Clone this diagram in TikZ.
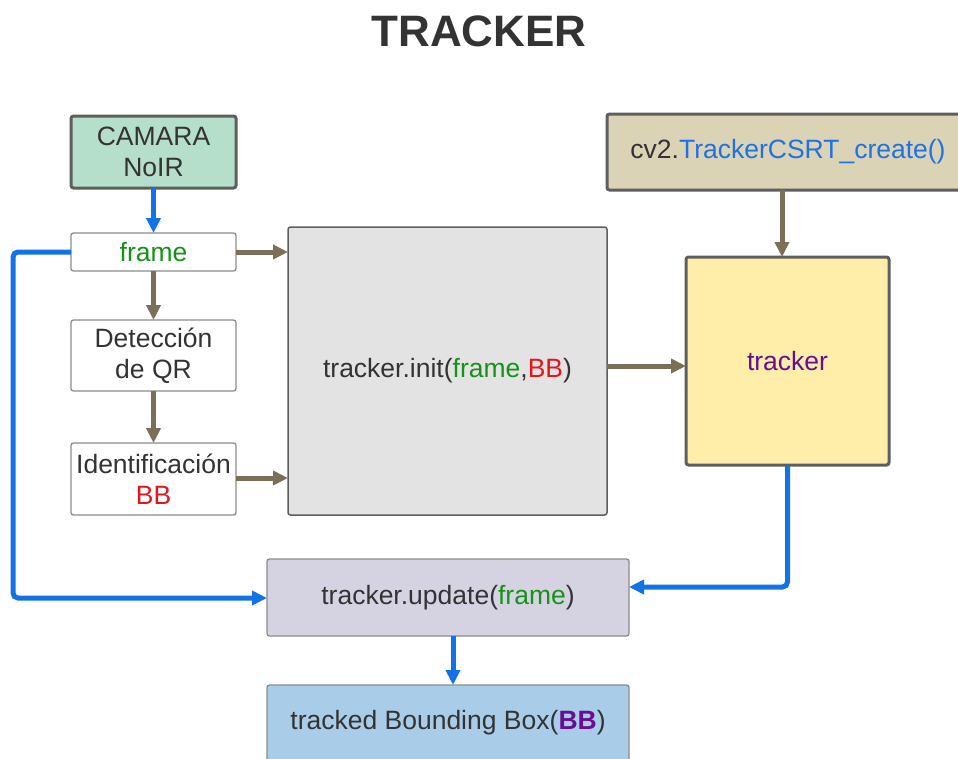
\documentclass[tikz,border=0pt]{standalone}
\usepackage{fontspec}
\setmainfont{Liberation Sans}
\usetikzlibrary{arrows.meta,calc}

\definecolor{ink}{HTML}{333333}
\definecolor{edgeDark}{HTML}{5E5E5E}
\definecolor{edgeLight}{HTML}{8C8C8C}
\definecolor{camFill}{HTML}{B5DECB}
\definecolor{cvFill}{HTML}{DAD3B6}
\definecolor{initFill}{HTML}{E3E3E3}
\definecolor{trkFill}{HTML}{FFEEA9}
\definecolor{updFill}{HTML}{D5D3E2}
\definecolor{outFill}{HTML}{A9CDE8}
\definecolor{txtGreen}{HTML}{16921A}
\definecolor{txtRed}{HTML}{E3161B}
\definecolor{txtPurple}{HTML}{6A0E91}
\definecolor{txtBlue}{HTML}{1F72E3}
\definecolor{flowBlue}{HTML}{1272E6}
\definecolor{flowBrown}{HTML}{7C6F57}

\tikzset{
  boxbase/.style={rectangle, rounded corners=2.5pt, anchor=north west, align=center,
    text=ink, font=\fontsize{26.5}{31}\selectfont, inner sep=2pt, outer sep=0pt},
  thickbox/.style={boxbase, draw=edgeDark, line width=3pt},
  thinbox/.style={boxbase, draw=edgeLight, line width=1.3pt},
  midbox/.style={boxbase, draw=edgeDark, line width=1.5pt},
  bluearrow/.style={draw=flowBlue, line width=5pt, rounded corners=5pt,
    -{Triangle[length=15pt,width=14pt]}},
  brownarrow/.style={draw=flowBrown, line width=5pt,
    -{Triangle[length=15pt,width=14pt]}},
}

\begin{document}
\begin{tikzpicture}[x=1pt,y=-1pt]
  \useasboundingbox (0,0) rectangle (958,758);
  \clip (0,0) rectangle (958,758);
  \fill[white] (0,0) rectangle (958,758);

  % heading
  \node[text=ink, font=\bfseries\fontsize{44}{50}\selectfont] (title) at (479,31) {TRACKER};

  % left column
  \node[thickbox, fill=camFill, minimum width=165pt, minimum height=72pt] (cam) at (71,116)
    {CAMARA\\NoIR};
  \node[thinbox, fill=white, minimum width=165pt, minimum height=38pt] (frame) at (71,233)
    {\textcolor{txtGreen}{frame}};
  \node[thinbox, fill=white, minimum width=165pt, minimum height=71pt] (qr) at (71,320)
    {Detección\\de QR};
  \node[thinbox, fill=white, minimum width=165pt, minimum height=72pt] (ident) at (71,443)
    {Identificación\\\textcolor{txtRed}{BB}};

  % initialisation block
  \node[midbox, fill=initFill, minimum width=319pt, minimum height=288pt] (init) at (288,227)
    {tracker.init(\textcolor{txtGreen}{frame},\textcolor{txtRed}{BB})};

  % tracker creation and object
  \node[thickbox, fill=cvFill, minimum width=362pt, minimum height=76pt] (cv) at (607,114)
    {cv2.\textcolor{txtBlue}{TrackerCSRT\_create()}};
  \node[thickbox, fill=trkFill, minimum width=203pt, minimum height=208pt] (trk) at (686,257)
    {\textcolor{txtPurple}{tracker}};

  % update and result
  \node[thinbox, fill=updFill, minimum width=362pt, minimum height=77pt] (upd) at (267,559)
    {tracker.update(\textcolor{txtGreen}{frame})};
  \node[thinbox, fill=outFill, minimum width=362pt, minimum height=76pt] (out) at (267,685)
    {tracked Bounding Box(\textcolor{txtPurple}{\bfseries BB})};

  % helper coordinates for connector rows and columns
  \coordinate (rowInit) at (0,366);
  \coordinate (colCv) at (782,0);
  \coordinate (rowUpd) at (0,587);
  \coordinate (colOut) at (453,0);
  \coordinate (leftRail) at (13,598);

  % brown data flow
  \draw[brownarrow] (frame.east) -- (frame.east -| init.west);
  \draw[brownarrow] (frame.south) -- (qr.north);
  \draw[brownarrow] (qr.south) -- (ident.north);
  \draw[brownarrow] ($(ident.east)+(0,-1)$) -- ($(ident.east -| init.west)+(0,-1)$);
  \draw[brownarrow] (init.east |- rowInit) -- (trk.west |- rowInit);
  \draw[brownarrow] (cv.south -| colCv) -- (trk.north -| colCv);

  % blue frame flow
  \draw[bluearrow] (cam.south) -- (frame.north);
  \draw[bluearrow] (frame.west) -| (leftRail) -- (leftRail -| upd.west);
  \draw[bluearrow] (trk.south) |- (upd.east |- rowUpd);
  \draw[bluearrow] (upd.south -| colOut) -- (out.north -| colOut);
\end{tikzpicture}
\end{document}
